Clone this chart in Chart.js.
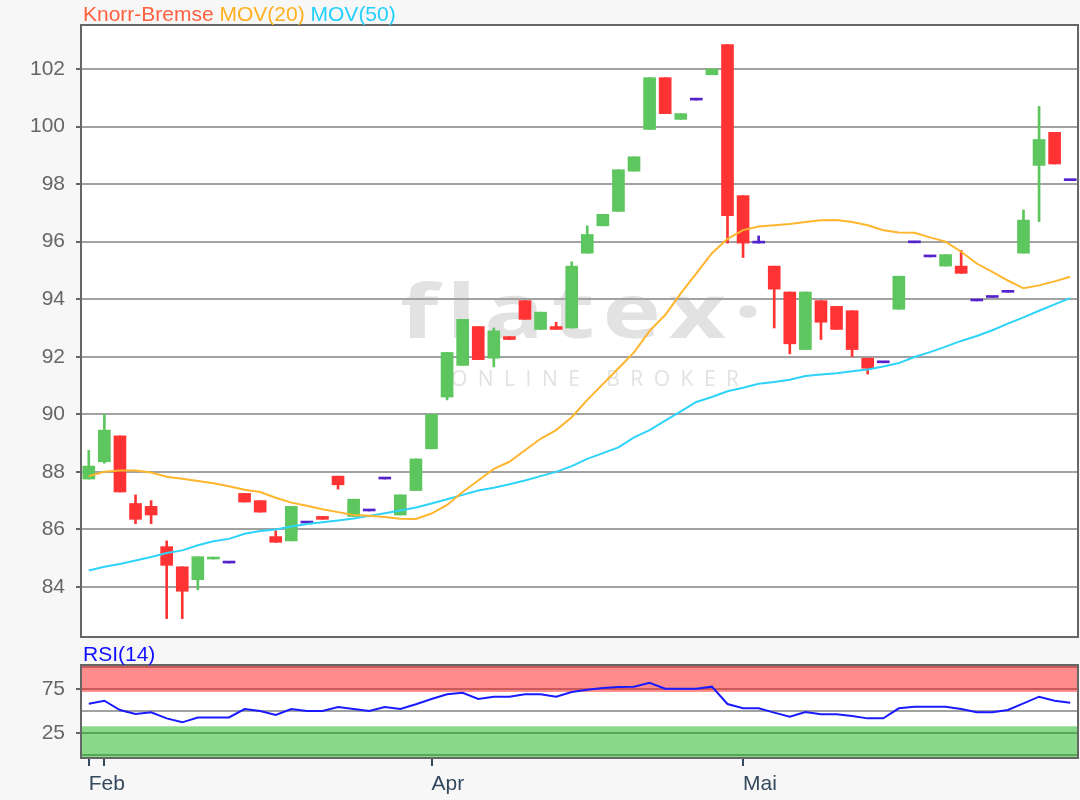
<!DOCTYPE html>
<html>
<head>
<meta charset="utf-8">
<script src="https://cdn.jsdelivr.net/npm/chart.js@4/dist/chart.umd.min.js"></script>
<style>
html,body{margin:0;padding:0;background:#f7f7f7;}
#wrap{position:relative;width:1080px;height:800px;overflow:hidden;}
#c1{position:absolute;left:0;top:0;}
#c2{position:absolute;left:0;top:640px;}
</style>
</head>
<body>
<div id="wrap">
<canvas id="c1" width="1080" height="640"></canvas>
<canvas id="c2" width="1080" height="160"></canvas>
</div>
<script>
// ---------------- data ----------------
const categories = ["1","2","3","4","5","6","7","8","9","10","11","12","13","14","15","16",
 "17","18","19","20","21","22","23","24","25","26","27","28","29","30","31","32",
 "33","34","35","36","37","38","39","40","41","42","43","44","45","46","47","48",
 "49","50","51","52","53","54","55","56","57","58","59","60","61","62","63","64"];

const openP = [87.75, 88.35, 89.25, 86.9, 86.8, 85.4, 84.7, 84.25, 84.97, 84.83,
 87.25, 87.0, 85.75, 85.6, 86.22, 86.45, 87.85, 86.45, 86.64, 87.75,
 86.5, 87.35, 88.8, 90.6, 91.7, 93.05, 91.95, 92.7, 93.95, 92.95,
 93.05, 93.0, 95.6, 96.55, 97.05, 98.45, 99.9, 101.7, 100.25, 100.92,
 101.8, 102.85, 97.6, 95.95, 95.15, 94.25, 92.25, 93.95, 93.75, 93.6,
 91.95, 91.79, 93.65, 95.96, 95.47, 95.15, 95.15, 93.94, 94.06, 94.24,
 95.6, 98.65, 99.8, 98.12];
const closeP = [88.2, 89.45, 87.3, 86.35, 86.5, 84.75, 83.85, 85.05, 85.0, 84.83,
 86.95, 86.6, 85.55, 86.8, 86.22, 86.35, 87.55, 87.05, 86.64, 87.75,
 87.2, 88.45, 90.0, 92.15, 93.3, 91.9, 92.9, 92.6, 93.3, 93.55,
 92.95, 95.15, 96.25, 96.95, 98.5, 98.95, 101.7, 100.45, 100.45, 100.92,
 102.0, 96.9, 95.95, 95.95, 94.35, 92.45, 94.25, 93.2, 92.95, 92.25,
 91.6, 91.79, 94.8, 95.96, 95.47, 95.55, 94.9, 93.94, 94.06, 94.24,
 96.75, 99.55, 98.7, 98.12];
const highP = [88.75, 90.0, 89.25, 87.2, 87.0, 85.6, 84.7, 85.05, 85.0, 84.83,
 87.25, 87.0, 85.95, 86.8, 86.22, 86.45, 87.85, 87.05, 86.64, 87.75,
 87.2, 88.45, 90.0, 92.15, 93.3, 93.05, 93.0, 92.7, 93.95, 93.55,
 93.2, 95.3, 96.55, 96.95, 98.5, 98.95, 101.7, 101.7, 100.45, 100.92,
 102.0, 102.85, 97.6, 96.2, 95.15, 94.25, 94.25, 93.95, 93.75, 93.6,
 91.95, 91.79, 94.8, 95.96, 95.47, 95.55, 95.7, 93.94, 94.06, 94.24,
 97.1, 100.7, 99.8, 98.12];
const lowP = [87.75, 88.3, 87.3, 86.2, 86.2, 82.9, 82.9, 83.9, 84.97, 84.83,
 86.95, 86.6, 85.55, 85.6, 86.22, 86.35, 87.4, 86.45, 86.64, 87.75,
 86.5, 87.35, 88.8, 90.5, 91.7, 91.9, 91.65, 92.6, 93.3, 92.95,
 92.95, 93.0, 95.6, 96.55, 97.05, 98.45, 99.9, 100.45, 100.25, 100.92,
 101.8, 95.95, 95.45, 95.95, 93.0, 92.1, 92.25, 92.6, 92.95, 92.0,
 91.4, 91.79, 93.65, 95.96, 95.47, 95.15, 94.9, 93.94, 94.06, 94.24,
 95.6, 96.7, 98.7, 98.12];

const mov20 = [87.85, 88.0, 88.05, 88.05, 87.98, 87.83, 87.76, 87.68, 87.6, 87.5,
 87.38, 87.3, 87.1, 86.93, 86.82, 86.7, 86.6, 86.5, 86.47, 86.43,
 86.37, 86.36, 86.55, 86.85, 87.3, 87.7, 88.1, 88.35, 88.75, 89.15,
 89.45, 89.9, 90.5, 91.05, 91.6, 92.15, 92.9, 93.45, 94.2, 94.9,
 95.6, 96.1, 96.4, 96.53, 96.57, 96.61, 96.68, 96.74, 96.75, 96.68,
 96.57, 96.4, 96.32, 96.31, 96.15, 96.0, 95.65, 95.24, 94.95, 94.65,
 94.38, 94.48, 94.62, 94.78];
const mov50 = [84.57, 84.7, 84.8, 84.92, 85.04, 85.18, 85.27, 85.45, 85.59, 85.67,
 85.85, 85.94, 86.0, 86.1, 86.19, 86.25, 86.31, 86.38, 86.47, 86.56,
 86.66, 86.76, 86.9, 87.05, 87.2, 87.35, 87.45, 87.57, 87.7, 87.85,
 88.0, 88.2, 88.45, 88.65, 88.85, 89.2, 89.45, 89.78, 90.1, 90.43,
 90.6, 90.8, 90.92, 91.06, 91.12, 91.2, 91.33, 91.38, 91.43, 91.5,
 91.56, 91.66, 91.78, 91.99, 92.16, 92.35, 92.55, 92.72, 92.92, 93.15,
 93.37, 93.6, 93.82, 94.04];
const rsi14 = [58.5, 62, 51.5, 47, 49, 42, 37.5, 43, 43, 43,
 52.6, 50.3, 45.8, 52.6, 50.3, 50.3, 55, 52.6, 50.3, 55,
 52.6, 58, 64, 69.3, 71, 64, 66.6, 66.6, 69.3, 69.3,
 66.6, 72, 74.5, 76.5, 77.5, 78, 82.5, 75.7, 75.7, 75.7,
 78, 58.3, 53.5, 53.4, 48.5, 44, 49.2, 46.6, 46.6, 44.7,
 42, 42, 53.4, 55.2, 55.2, 55.2, 52.6, 48.9, 48.9, 51.5,
 59, 66.6, 62, 59.8];

const priceTicks = [84, 86, 88, 90, 92, 94, 96, 98, 100, 102];
const priceRange = [82.26, 103.53];
const rsiTicks = [0, 25, 50, 75, 100];
const rsiTickLabels = ["", "25", "", "75", ""];
const rsiRange = [-3, 102.6];
const rsiUpperBand = 72;
const rsiLowerBand = 33;
const monthTickIdx = [0, 1, 22, 42];
const monthTickLabels = ["Feb", "", "Apr", "Mai"];

// ---------------- styling ----------------
const FONT = '"Liberation Sans", Arial, sans-serif';
Chart.defaults.font.family = FONT;
Chart.defaults.font.size = 21;
Chart.defaults.animation = false;
Chart.defaults.plugins.legend.display = false;
Chart.defaults.plugins.tooltip.enabled = false;

const UP = '#5ec65e', DOWN = '#ff3333', FLAT = '#5522cc';
const candleColors = openP.map((o, i) => closeP[i] > o ? UP : (closeP[i] < o ? DOWN : FLAT));

const fitY = s => { s.width = 81; s.paddingTop = 0; s.paddingBottom = 0; };

const boxPlugin = {
  id: 'box',
  beforeDraw(chart, args, opts) {
    const {ctx, chartArea: a} = chart;
    ctx.save();
    ctx.fillStyle = '#ffffff';
    ctx.fillRect(a.left, a.top, a.right - a.left, a.bottom - a.top);
    if (opts.watermark) {
      ctx.fillStyle = '#e2e2e2';
      ctx.textBaseline = 'alphabetic';
      ctx.textAlign = 'left';
      ctx.save();
      ctx.translate(400, 338);
      ctx.scale(1.3, 1);
      ctx.font = 'bold 76px "Open Sans", sans-serif';
      const word = 'flatex\u00B7';
      ctx.letterSpacing = '0px';
      const w0 = ctx.measureText(word).width;
      const sp = (362 / 1.3 - w0) / (word.length - 1);
      ctx.letterSpacing = sp + 'px';
      ctx.fillText(word, 0, 0);
      ctx.restore();
      ctx.font = '21px "Open Sans", sans-serif';
      ctx.letterSpacing = '0px';
      const w1 = ctx.measureText('ONLINE BROKER').width;
      ctx.letterSpacing = ((288 - w1) / 12) + 'px';
      ctx.fillText('ONLINE BROKER', 451, 386);
      ctx.letterSpacing = '0px';
    }
    ctx.restore();
  },
  beforeDatasetsDraw(chart, args, opts) {
    if (!opts.bands) return;
    const {ctx, chartArea: a, scales: {y}} = chart;
    ctx.save();
    const yU = y.getPixelForValue(rsiUpperBand);
    const yL = y.getPixelForValue(rsiLowerBand);
    ctx.fillStyle = 'rgba(255,0,0,0.45)';
    ctx.fillRect(a.left, a.top, a.right - a.left, yU - a.top);
    ctx.fillStyle = 'rgba(0,170,0,0.46)';
    ctx.fillRect(a.left, yL, a.right - a.left, a.bottom - yL);
    ctx.restore();
  },
  afterDraw(chart, args, opts) {
    const {ctx, chartArea: a} = chart;
    ctx.save();
    ctx.strokeStyle = '#666666';
    ctx.lineWidth = 2;
    ctx.strokeRect(a.left, a.top, a.right - a.left, a.bottom - a.top);
    if (opts.title) {
      ctx.font = '21px ' + FONT;
      ctx.textBaseline = 'alphabetic';
      ctx.textAlign = 'left';
      let x = 83;
      opts.title.forEach(([txt, col]) => {
        ctx.fillStyle = col;
        ctx.fillText(txt, x, opts.titleY);
        x += ctx.measureText(txt + ' ').width;
      });
    }
    ctx.restore();
  }
};

// ---------------- main price chart ----------------
new Chart(document.getElementById('c1'), {
  type: 'bar',
  data: {
    labels: categories,
    datasets: [
      { type: 'line', label: 'MOV(20)', data: mov20, borderColor: '#ffb52e', borderWidth: 2,
        pointRadius: 0, tension: 0, order: 0 },
      { type: 'line', label: 'MOV(50)', data: mov50, borderColor: '#2fd3fa', borderWidth: 2,
        pointRadius: 0, tension: 0, order: 0 },
      { label: 'Body', data: openP.map((o, i) => [o, closeP[i]]), backgroundColor: candleColors,
        barThickness: 12, minBarLength: 2, grouped: false, order: 1 },
      { label: 'Wick', data: lowP.map((l, i) => [l, highP[i]]), backgroundColor: candleColors,
        barThickness: 2, grouped: false, order: 2 }
    ]
  },
  options: {
    responsive: false,
    layout: { padding: { top: 25, right: 2, bottom: 3, left: 0 } },
    scales: {
      x: { display: false, offset: true },
      y: {
        min: priceRange[0], max: priceRange[1],
        afterBuildTicks: s => { s.ticks = priceTicks.map(v => ({ value: v })); },
        afterFit: fitY,
        ticks: { color: '#666666', padding: 11, autoSkip: false },
        grid: { color: '#a2a2a2', lineWidth: 2, tickLength: 5, tickColor: '#666666' },
        border: { display: false }
      }
    },
    plugins: {
      box: { watermark: true, titleY: 21,
        title: [['Knorr-Bremse', '#ff6040'], ['MOV(20)', '#ffb020'], ['MOV(50)', '#22d0ff']] }
    }
  },
  plugins: [boxPlugin]
});

// ---------------- RSI chart ----------------
new Chart(document.getElementById('c2'), {
  type: 'line',
  data: {
    labels: categories,
    datasets: [
      { label: 'RSI(14)', data: rsi14, borderColor: '#1a1aff', borderWidth: 2, pointRadius: 0, tension: 0 }
    ]
  },
  options: {
    responsive: false,
    layout: { padding: { top: 25, right: 2, bottom: 0, left: 0 } },
    scales: {
      x: {
        offset: true,
        afterBuildTicks: s => { s.ticks = monthTickIdx.map(v => ({ value: v })); },
        afterFit: s => { s.height = 42; s.paddingLeft = 0; s.paddingRight = 0; },
        ticks: {
          autoSkip: false, maxRotation: 0, align: 'start', padding: 6, color: '#34495e',
          callback: (v) => monthTickLabels[monthTickIdx.indexOf(v)]
        },
        grid: { drawOnChartArea: false, offset: false, tickLength: 8, lineWidth: 2, tickColor: '#34495e' },
        border: { display: false }
      },
      y: {
        min: rsiRange[0], max: rsiRange[1],
        afterBuildTicks: s => { s.ticks = rsiTicks.map(v => ({ value: v })); },
        afterFit: fitY,
        ticks: { color: '#666666', padding: 11, autoSkip: false,
          callback: (v) => rsiTickLabels[rsiTicks.indexOf(v)] },
        grid: { color: '#a2a2a2', lineWidth: 2, tickLength: 5,
          tickColor: ctx => (ctx.tick && rsiTickLabels[rsiTicks.indexOf(ctx.tick.value)]) ? '#666666' : 'rgba(0,0,0,0)' },
        border: { display: false }
      }
    },
    plugins: {
      box: { bands: true, titleY: 21, title: [['RSI(14)', '#1010ff']] }
    }
  },
  plugins: [boxPlugin]
});
</script>
</body>
</html>
